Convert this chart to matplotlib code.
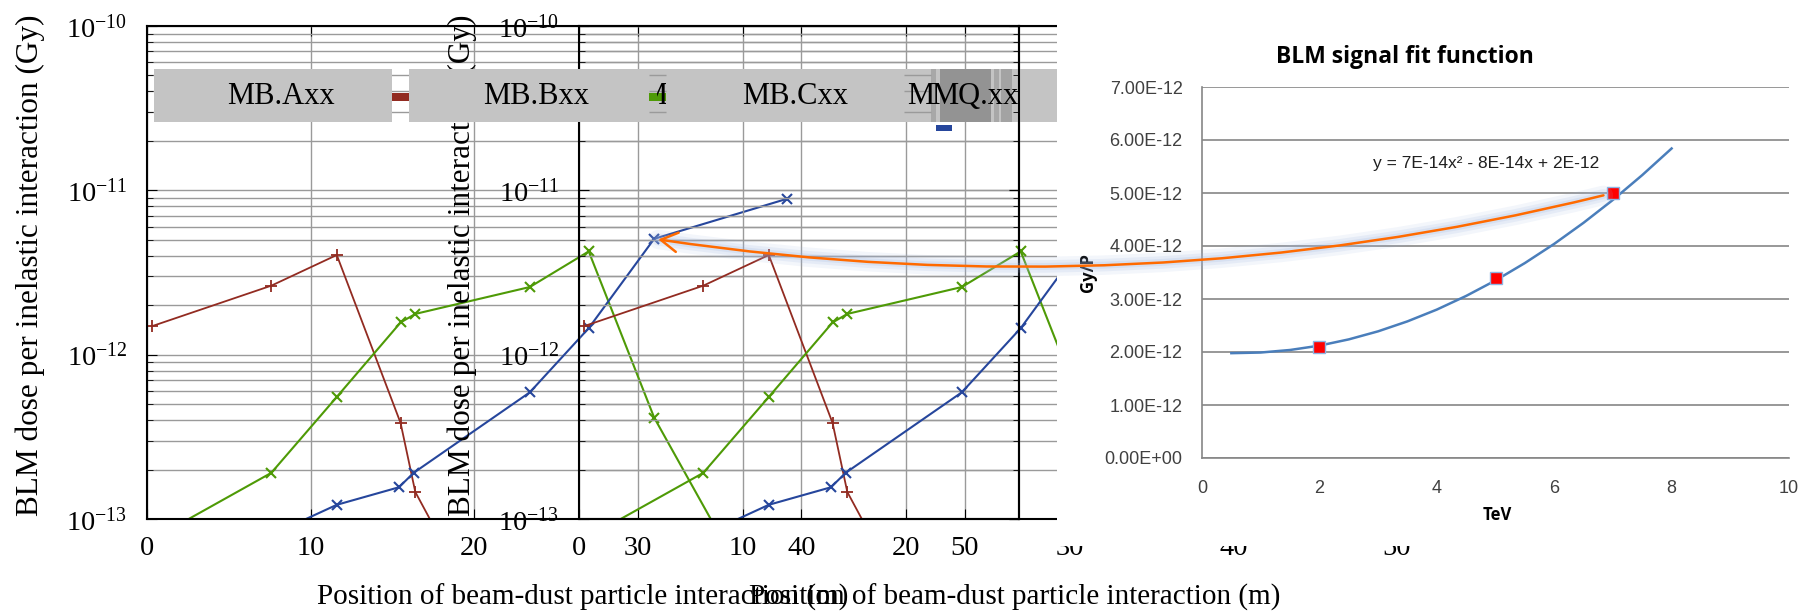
# BLM dose along the half-cell (two overlaid copies) + BLM signal fit function

import numpy as np
import matplotlib.pyplot as plt
from matplotlib.patches import Rectangle, ConnectionPatch
from matplotlib.ticker import LogLocator, NullFormatter, MultipleLocator

plt.rcParams['font.family'] = ['Liberation Serif', 'DejaVu Serif']
plt.rcParams['mathtext.fontset'] = 'custom'
plt.rcParams['mathtext.rm'] = 'Liberation Serif'
plt.rcParams['mathtext.it'] = 'Liberation Serif:italic'

# dose per inelastic interaction vs position (m, Gy)
red_x = [0.3, 7.6, 11.6, 15.5, 16.4, 18.3]
red_y = [1.49e-12, 2.63e-12, 4.04e-12, 3.84e-13, 1.46e-13, 6.5e-14]
green_x = [0.3, 7.6, 11.6, 15.5, 16.4, 23.4, 27.0, 31.0, 35.7]
green_y = [7.5e-14, 1.91e-13, 5.53e-13, 1.57e-12, 1.77e-12, 2.58e-12, 4.25e-12, 4.14e-13, 6.0e-14]
blue_x = [7.6, 11.6, 15.4, 16.3, 23.4, 27.0, 31.0, 39.1]
blue_y = [8.0e-14, 1.22e-13, 1.56e-13, 1.91e-13, 5.9e-13, 1.45e-12, 5.07e-12, 8.87e-12]

# magnet labels on top of the plot
magnet_names = ['MB.Axx', 'MB.Bxx', 'MB.Cxx', 'M', 'MQ.xx']
magnet_centers = [8.2, 23.8, 39.6, 47.3, 50.6]

# BLM signal vs beam energy (TeV, Gy/p)
fit_tev = [0.5, 1.0, 1.5, 2.0, 2.5, 3.0, 3.5, 4.0, 4.5, 5.0, 5.5, 6.0, 6.5, 7.0, 7.5, 8.0]
fit_gy = [1.978e-12, 1.99e-12, 2.038e-12, 2.12e-12, 2.238e-12, 2.39e-12, 2.578e-12, 2.80e-12,
          3.058e-12, 3.35e-12, 3.678e-12, 4.04e-12, 4.438e-12, 4.87e-12, 5.338e-12, 5.84e-12]
meas_tev = [2, 5, 7]
meas_gy = [2.1e-12, 3.4e-12, 5.0e-12]

RED = '#922b21'
GREEN = '#4e9a06'
BLUE = '#26469c'
GRID = '#9a9a9a'

W, H = 1812, 612
fig = plt.figure(figsize=(W / 100, H / 100), dpi=100)


def fpos(x0, y0, x1, y1):
    # pixel box (top-left origin) -> figure fraction rect
    return [x0 / W, 1 - y1 / H, (x1 - x0) / W, (y1 - y0) / H]


def dose_axes(left, z):
    ax = fig.add_axes(fpos(left, 26, left + 872, 519), zorder=z)
    ax.set_facecolor('none')
    ax.set_yscale('log')
    ax.set_xlim(0, 53.3)
    ax.set_ylim(1e-13, 1e-10)
    ax.plot(red_x, red_y, color=RED, lw=1.3, marker='+', ms=8, mew=1.3)
    ax.plot(green_x, green_y, color=GREEN, lw=1.5, marker='x', ms=7, mew=1.5)
    ax.plot(blue_x, blue_y, color=BLUE, lw=1.5, marker='x', ms=7, mew=1.5)
    ax.xaxis.set_major_locator(MultipleLocator(10))
    ax.yaxis.set_major_locator(LogLocator(base=10, numticks=10))
    ax.yaxis.set_minor_locator(LogLocator(base=10, subs=np.arange(2, 10), numticks=10))
    ax.yaxis.set_minor_formatter(NullFormatter())
    ax.grid(True, which='both', axis='y', color=GRID, lw=1.0)
    ax.grid(True, which='major', axis='x', color=GRID, lw=1.0)
    ax.tick_params(which='both', direction='in', top=True, right=True, labelsize=20.5)
    ax.tick_params(axis='y', which='major', length=7, pad=14)
    ax.tick_params(axis='y', which='minor', length=4)
    ax.tick_params(axis='x', length=7, pad=12)
    for s in ax.spines.values():
        s.set_linewidth(1.5)
    ax.set_ylabel('BLM dose per inelastic interaction (Gy)', fontsize=22.5)
    ax.yaxis.set_label_coords(-0.117, 0.515)
    ax.set_xlabel('Position of beam-dust particle interaction (m)', fontsize=21)
    ax.xaxis.set_label_coords(0.5, -0.132)
    return ax


ax_a = dose_axes(147, 1)
ax_b = dose_axes(579, 2)

# magnet boxes drawn over both copies
ax_m = fig.add_axes(ax_a.get_position(), zorder=2.5, sharex=ax_a)
ax_m.set_facecolor('none')
ax_m.set_yscale('log')
ax_m.set_ylim(1e-13, 1e-10)
for side in ['left', 'top', 'bottom']:
    ax_m.spines[side].set_visible(False)
ax_m.spines['right'].set_linewidth(1.5)
ax_m.yaxis.set_major_locator(LogLocator(base=10, numticks=10))
ax_m.yaxis.set_minor_locator(LogLocator(base=10, subs=np.arange(2, 10), numticks=10))
ax_m.tick_params(which='both', direction='in', left=False, bottom=False, right=True,
                 labelleft=False, labelbottom=False)
ax_m.tick_params(which='major', length=7)
ax_m.tick_params(which='minor', length=4)

y_lo, y_hi = 2.61e-11, 5.48e-11
box_kw = dict(lw=0, clip_on=False, zorder=1)
ax_m.add_patch(Rectangle((0.4, y_lo), 14.6, y_hi - y_lo, color='#c4c4c4', **box_kw))
ax_m.add_patch(Rectangle((16.0, y_lo), 39.7, y_hi - y_lo, color='#c4c4c4', **box_kw))
for x0, x1, c in [(47.9, 48.2, '#a8a8a8'), (48.5, 51.6, '#939393'),
                  (51.8, 52.05, '#a8a8a8'), (52.2, 52.9, '#a3a3a3')]:
    ax_m.add_patch(Rectangle((x0, y_lo), x1 - x0, y_hi - y_lo, color=c, **box_kw))
for x0, x1 in [(30.7, 31.75), (46.3, 47.9)]:
    ax_m.hlines([5e-11, 4e-11, 3e-11], x0, x1, color=GRID, lw=1.0, zorder=1.5)
ax_m.add_patch(Rectangle((15.0, 3.5e-11), 1.0, 0.42e-11, color=RED, lw=0, zorder=2))
ax_m.add_patch(Rectangle((30.7, 3.5e-11), 1.05, 0.42e-11, color=GREEN, lw=0, zorder=2))
ax_m.add_patch(Rectangle((48.2, 2.3e-11), 1.0, 0.2e-11, color=BLUE, lw=0, zorder=2))
for name, xc in zip(magnet_names, magnet_centers):
    ax_m.text(xc, 3.75e-11, name, ha='center', va='center', fontsize=22, zorder=3,
              clip_on=False)
# clipped "M" piece in the green legend slot
t = ax_m.text(31.0, 3.75e-11, 'M', ha='center', va='center', fontsize=22, zorder=2.5,
              clip_on=True)
clip = Rectangle((31.2, y_lo), 0.55, y_hi - y_lo, transform=ax_m.transData)
t.set_clip_path(clip)

# white cover under the fit chart
fig.add_artist(Rectangle((1057 / W, 1 - 546 / H), 1 - 1057 / W, 546 / H,
                         transform=fig.transFigure, color='white', lw=0, zorder=3))

# fit chart
sans = ['Liberation Sans', 'DejaVu Sans']
bold = ['Open Sans', 'DejaVu Sans']
ax_r = fig.add_axes(fpos(1202, 87, 1789, 458), zorder=4)
ax_r.set_facecolor('none')
ax_r.plot(fit_tev, fit_gy, color='#4a7ebb', lw=1.8)
ax_r.plot(meas_tev, meas_gy, ls='none', marker='s', ms=8, mfc='red', mec='#8eb4e3', mew=1)
ax_r.set_xlim(0, 10)
ax_r.set_ylim(0, 7e-12)
ax_r.xaxis.set_major_locator(MultipleLocator(2))
ax_r.yaxis.set_major_locator(MultipleLocator(1e-12))
ax_r.yaxis.set_major_formatter(lambda v, p: f'{v:.2E}')
ax_r.grid(True, axis='y', color='#868686', lw=1.2)
ax_r.set_axisbelow(True)
for side in ['top', 'right']:
    ax_r.spines[side].set_visible(False)
for side in ['left', 'bottom']:
    ax_r.spines[side].set_color('#868686')
    ax_r.spines[side].set_linewidth(1.2)
ax_r.tick_params(length=0, labelsize=13, colors='#404040')
ax_r.tick_params(axis='x', pad=16)
ax_r.tick_params(axis='y', pad=14)
for lab in ax_r.get_xticklabels() + ax_r.get_yticklabels():
    lab.set_fontfamily(sans)
ax_r.set_xlabel('TeV', fontsize=12, fontweight='bold', family=bold)
ax_r.xaxis.set_label_coords(0.5026, -0.13)
ax_r.set_ylabel('Gy/P', fontsize=12, fontweight='bold', family=bold)
ax_r.yaxis.set_label_coords(-0.179, 0.5)
ax_r.text(0.346, 1.08, 'BLM signal fit function', transform=ax_r.transAxes, ha='center',
          va='center', fontsize=16.5, fontweight='bold', family=bold)
ax_r.text(0.484, 0.794, 'y = 7E-14x² - 8E-14x + 2E-12', transform=ax_r.transAxes,
          ha='center', va='center', fontsize=12.5, family=sans, color='#202020')

# orange arrow from the 7 TeV point to the dose chart, with a soft glow
for lw, a in [(14, 0.12), (9, 0.16), (5, 0.2)]:
    glow = ConnectionPatch(xyA=(meas_tev[2], meas_gy[2]), coordsA=ax_r.transData,
                           xyB=(blue_x[6], blue_y[6]), coordsB=ax_a.transData,
                           arrowstyle='-', connectionstyle='arc3,rad=-0.1',
                           color='#9db5e0', lw=lw, alpha=a, shrinkA=7, shrinkB=3,
                           zorder=5, capstyle='round')
    fig.add_artist(glow)
arrow = ConnectionPatch(xyA=(meas_tev[2], meas_gy[2]), coordsA=ax_r.transData,
                        xyB=(blue_x[6], blue_y[6]), coordsB=ax_a.transData,
                        arrowstyle='->,head_length=0.6,head_width=0.35', mutation_scale=20,
                        connectionstyle='arc3,rad=-0.1', color='#ff6a00', lw=1.8,
                        shrinkA=7, shrinkB=3, zorder=6)
fig.add_artist(arrow)

fig.savefig('out.png', dpi=100)
